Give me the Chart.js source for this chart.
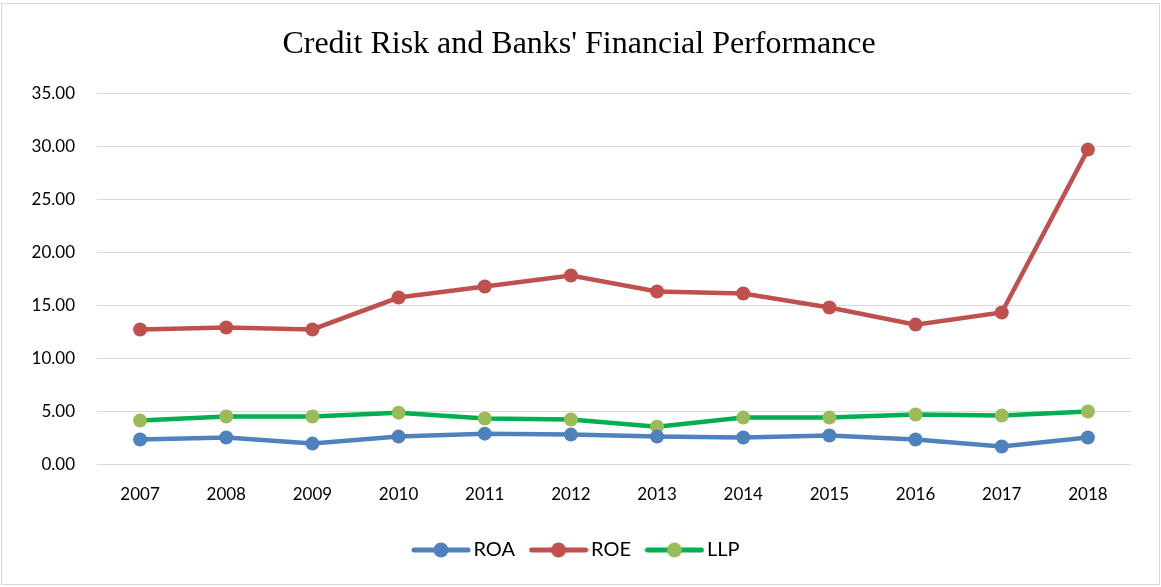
<!DOCTYPE html>
<html>
<head>
<meta charset="utf-8">
<script src="https://cdn.jsdelivr.net/npm/chart.js@4.4.1/dist/chart.umd.min.js"></script>
<style>
  html, body { margin: 0; padding: 0; background: #ffffff; }
  #wrap { width: 1161px; height: 587px; position: relative; }
</style>
</head>
<body>
<div id="wrap"><canvas id="chart" width="1161" height="587"></canvas></div>
<script>
// Years on the category axis
const years = ['2007', '2008', '2009', '2010', '2011', '2012', '2013', '2014', '2015', '2016', '2017', '2018'];

// Return on assets (%)
const roa = [2.36, 2.55, 1.98, 2.64, 2.92, 2.83, 2.64, 2.55, 2.74, 2.36, 1.70, 2.55];
// Return on equity (%)
const roe = [12.74, 12.92, 12.74, 15.75, 16.79, 17.83, 16.32, 16.13, 14.81, 13.20, 14.34, 29.70];
// Loan loss provisions (%)
const llp = [4.15, 4.53, 4.53, 4.90, 4.34, 4.25, 3.58, 4.43, 4.43, 4.72, 4.62, 5.00];

const yTicks = { min: 0, max: 35, step: 5 };

const FONT = 'Lato, "Liberation Sans", sans-serif';

// Legend swatch: a short thick line with a round marker in the middle
function legendSwatch(lineColor, dotColor) {
  const c = document.createElement('canvas');
  c.width = 60; c.height = 16;
  const g = c.getContext('2d');
  g.strokeStyle = lineColor;
  g.lineWidth = 5;
  g.lineCap = 'round';
  g.beginPath();
  g.moveTo(3, 8); g.lineTo(57, 8);
  g.stroke();
  g.fillStyle = dotColor;
  g.beginPath();
  g.arc(30, 8, 7.5, 0, Math.PI * 2);
  g.fill();
  return c;
}

// Thin grey frame around the whole chart
const framePlugin = {
  id: 'frame',
  afterDraw(chart) {
    const ctx = chart.ctx;
    ctx.save();
    ctx.strokeStyle = '#D9D9D9';
    ctx.lineWidth = 1;
    ctx.strokeRect(1.5, 3.5, chart.width - 3, chart.height - 6);
    ctx.restore();
  }
};

const series = [
  { label: 'ROA', data: roa, line: '#4F81BD', dot: '#4F81BD' },
  { label: 'ROE', data: roe, line: '#C0504D', dot: '#C0504D' },
  { label: 'LLP', data: llp, line: '#00B050', dot: '#9BBB59' }
];

new Chart(document.getElementById('chart'), {
  type: 'line',
  data: {
    labels: years,
    datasets: series.map(s => ({
      label: s.label,
      data: s.data,
      borderColor: s.line,
      backgroundColor: s.dot,
      pointBackgroundColor: s.dot,
      pointBorderColor: s.dot,
      pointRadius: 7,
      pointBorderWidth: 0,
      pointStyle: 'circle',
      borderWidth: 4.5,
      tension: 0,
      fill: false
    }))
  },
  options: {
    responsive: false,
    animation: false,
    layout: { padding: { left: 27, right: 30, top: 0, bottom: 17 } },
    plugins: {
      title: {
        display: true,
        text: "Credit Risk and Banks' Financial Performance",
        color: '#000000',
        font: { family: '"Liberation Serif", "Times New Roman", serif', size: 32, weight: 'normal' },
        padding: { top: 25, bottom: 30 }
      },
      legend: {
        position: 'bottom',
        labels: {
          usePointStyle: true,
          pointStyleWidth: 45,
          boxHeight: 16,
          color: '#000000',
          padding: 21,
          font: { family: FONT, size: 20 },
          generateLabels(chart) {
            return chart.data.datasets.map((d, i) => ({
              text: d.label,
              fillStyle: d.backgroundColor,
              strokeStyle: d.borderColor,
              lineWidth: 0,
              pointStyle: legendSwatch(series[i].line, series[i].dot),
              hidden: false,
              datasetIndex: i,
              fontColor: '#000000'
            }));
          }
        }
      },
      tooltip: { enabled: false }
    },
    scales: {
      x: {
        offset: true,
        afterFit(scale) { scale.height -= 6; },
        grid: { display: false, drawTicks: false },
        border: { display: false },
        ticks: { color: '#000000', font: { family: FONT, size: 17 }, padding: 20, maxRotation: 0 }
      },
      y: {
        min: yTicks.min,
        max: yTicks.max,
        afterFit(scale) { scale.width = 70; },
        grid: { color: '#D9D9D9', lineWidth: 1, drawTicks: false },
        border: { display: false },
        ticks: {
          stepSize: yTicks.step,
          color: '#000000',
          padding: 22,
          font: { family: FONT, size: 17 },
          callback: v => Number(v).toFixed(2)
        }
      }
    }
  },
  plugins: [framePlugin]
});
</script>
</body>
</html>
